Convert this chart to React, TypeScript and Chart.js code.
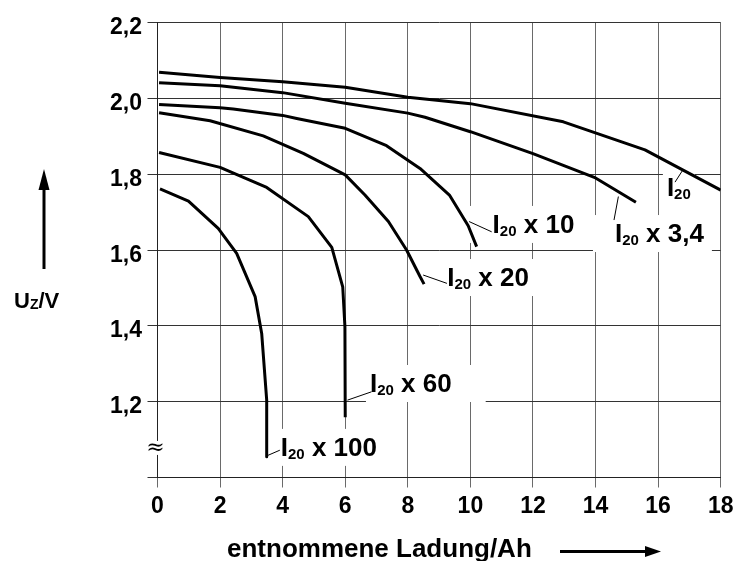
import React, { useEffect, useRef } from 'react';
import { Chart, registerables } from 'chart.js';

Chart.register(...registerables);

// ---------- data ----------
const xTickValues = [0, 2, 4, 6, 8, 10, 12, 14, 16, 18];
const xTickLabels = ['0', '2', '4', '6', '8', '10', '12', '14', '16', '18'];
const yTickValues = [1.2, 1.4, 1.6, 1.8, 2.0, 2.2];
const yTickLabels = ['1,2', '1,4', '1,6', '1,8', '2,0', '2,2'];

const xTitle = 'entnommene Ladung/Ah';
const yTitleMain = 'U';
const yTitleSub = 'Z';
const yTitleRest = '/V';

// I20
const i20Charge = [0.05, 2, 4, 6, 8, 10, 12.97, 15.58, 18];
const i20Voltage = [2.069, 2.055, 2.044, 2.029, 2.003, 1.986, 1.938, 1.864, 1.758];
// I20 x 3,4
const i20x34Charge = [0.05, 2, 4, 6, 8, 8.55, 10, 12, 14, 15.29];
const i20x34Voltage = [2.041, 2.033, 2.015, 1.987, 1.961, 1.95, 1.912, 1.854, 1.79, 1.726];
// I20 x 10
const i20x10Charge = [0.05, 2, 2.42, 4, 4.45, 6, 7.32, 8.39, 9.33, 9.93, 10.2];
const i20x10Voltage = [1.984, 1.975, 1.972, 1.955, 1.947, 1.921, 1.875, 1.815, 1.745, 1.664, 1.609];
// I20 x 20
const i20x20Charge = [0.05, 1.68, 3.38, 4.66, 6.0, 6.63, 7.38, 7.96, 8.39, 8.52];
const i20x20Voltage = [1.962, 1.941, 1.901, 1.855, 1.798, 1.745, 1.675, 1.6, 1.53, 1.51];
// I20 x 60
const i20x60Charge = [0.05, 2.0, 3.49, 4.82, 5.57, 5.92, 5.99, 6.0];
const i20x60Voltage = [1.857, 1.818, 1.765, 1.688, 1.607, 1.503, 1.398, 1.159];
// I20 x 100
const i20x100Charge = [0.08, 0.99, 1.94, 2.53, 3.12, 3.33, 3.49, 3.49];
const i20x100Voltage = [1.761, 1.729, 1.657, 1.591, 1.477, 1.38, 1.204, 1.055];

const seriesNames = ['I20', 'I20 x 3,4', 'I20 x 10', 'I20 x 20', 'I20 x 60', 'I20 x 100'];
const seriesCharge = [i20Charge, i20x34Charge, i20x10Charge, i20x20Charge, i20x60Charge, i20x100Charge];
const seriesVoltage = [i20Voltage, i20x34Voltage, i20x10Voltage, i20x20Voltage, i20x60Voltage, i20x100Voltage];

// curve labels: text anchor and leader line in data units
const labelSuffix = ['', ' x 3,4', ' x 10', ' x 20', ' x 60', ' x 100'];
const labelX = [16.28, 14.62, 10.71, 9.26, 6.79, 3.94];
const labelY = [1.742, 1.621, 1.645, 1.505, 1.2255, 1.057];
const leaderFromX = [16.54, 14.59, 10.68, 9.25, 6.84, 3.91];
const leaderFromY = [1.779, 1.679, 1.648, 1.512, 1.226, 1.072];
const leaderToX = [16.79, 14.73, 9.96, 8.49, 6.07, 3.49];
const leaderToY = [1.811, 1.741, 1.675, 1.534, 1.204, 1.057];
const maskPadLeft = [4, 22, 24, 4, 4, 4];
const maskPadRight = [4, 8, 6, 8, 34, 6];

const breakMarkY = 1.078;

// ---------- styles ----------
const FONT = '"Liberation Sans", Arial, Helvetica, sans-serif';
const LABEL_SIZE = 26;
const SUB_SIZE = 15;

function drawIndexLabel(ctx: CanvasRenderingContext2D, x: number, y: number, rest: string, measureOnly = false): number {
  ctx.font = `bold ${LABEL_SIZE}px ${FONT}`;
  const wI = ctx.measureText('I').width;
  ctx.font = `bold ${SUB_SIZE}px ${FONT}`;
  const wSub = ctx.measureText('20').width;
  ctx.font = `bold ${LABEL_SIZE}px ${FONT}`;
  const wRest = rest ? ctx.measureText(rest).width : 0;
  if (!measureOnly) {
    ctx.fillStyle = '#000';
    ctx.textAlign = 'left';
    ctx.textBaseline = 'alphabetic';
    ctx.font = `bold ${LABEL_SIZE}px ${FONT}`;
    ctx.fillText('I', x, y);
    ctx.font = `bold ${SUB_SIZE}px ${FONT}`;
    ctx.fillText('20', x + wI, y + 3);
    if (rest) {
      ctx.font = `bold ${LABEL_SIZE}px ${FONT}`;
      ctx.fillText(rest, x + wI + wSub, y);
    }
  }
  return wI + wSub + wRest;
}

const overlayPlugin = {
  id: 'overlay',
  beforeDatasetsDraw(chart: any) {
    const { ctx, scales } = chart;
    const xs = scales.x;
    const ys = scales.y;
    ctx.save();
    ctx.fillStyle = '#fff';
    for (let i = 0; i < seriesNames.length; i++) {
      const px = xs.getPixelForValue(labelX[i]);
      const py = ys.getPixelForValue(labelY[i]);
      const w = drawIndexLabel(ctx, px, py, labelSuffix[i], true);
      ctx.fillRect(px - maskPadLeft[i], py - 27, w + maskPadLeft[i] + maskPadRight[i], 37);
    }
    const bx = xs.getPixelForValue(0);
    const by = ys.getPixelForValue(breakMarkY);
    ctx.fillRect(bx - 8, by - 7, 16, 14);
    ctx.restore();
  },
  afterDatasetsDraw(chart: any) {
    const { ctx, scales, chartArea } = chart;
    const xs = scales.x;
    const ys = scales.y;
    ctx.save();

    // leaders
    ctx.strokeStyle = '#000';
    ctx.lineWidth = 1;
    for (let i = 0; i < seriesNames.length; i++) {
      ctx.beginPath();
      ctx.moveTo(xs.getPixelForValue(leaderFromX[i]), ys.getPixelForValue(leaderFromY[i]));
      ctx.lineTo(xs.getPixelForValue(leaderToX[i]), ys.getPixelForValue(leaderToY[i]));
      ctx.stroke();
    }
    // labels
    for (let i = 0; i < seriesNames.length; i++) {
      drawIndexLabel(ctx, xs.getPixelForValue(labelX[i]), ys.getPixelForValue(labelY[i]), labelSuffix[i]);
    }

    // break mark
    ctx.fillStyle = '#000';
    ctx.font = `22px "DejaVu Serif", "Liberation Serif", serif`;
    ctx.textAlign = 'center';
    ctx.textBaseline = 'middle';
    ctx.fillText('\u2248', xs.getPixelForValue(0) - 2, ys.getPixelForValue(breakMarkY));

    // tick labels
    ctx.font = `bold 23px ${FONT}`;
    ctx.textAlign = 'right';
    ctx.textBaseline = 'alphabetic';
    yTickValues.forEach((v, i) => {
      ctx.fillText(yTickLabels[i], chartArea.left - 15.5, ys.getPixelForValue(v) + 11.5);
    });
    ctx.textAlign = 'center';
    xTickValues.forEach((v, i) => {
      ctx.fillText(xTickLabels[i], xs.getPixelForValue(v), chartArea.bottom + 35.5);
    });

    // x title + arrow
    ctx.font = `bold 26px ${FONT}`;
    ctx.textAlign = 'left';
    ctx.fillText(xTitle, 227, 557);
    ctx.lineWidth = 3;
    ctx.beginPath();
    ctx.moveTo(560, 551.5);
    ctx.lineTo(648, 551.5);
    ctx.stroke();
    ctx.beginPath();
    ctx.moveTo(661, 551.5);
    ctx.lineTo(645, 546);
    ctx.lineTo(645, 557);
    ctx.closePath();
    ctx.fill();

    // y title + arrow
    ctx.font = `bold 22px ${FONT}`;
    const wU = ctx.measureText(yTitleMain).width;
    ctx.fillText(yTitleMain, 14, 308);
    ctx.font = `bold 14px ${FONT}`;
    const wZ = ctx.measureText(yTitleSub).width;
    ctx.fillText(yTitleSub, 14 + wU, 309);
    ctx.font = `bold 22px ${FONT}`;
    ctx.fillText(yTitleRest, 14 + wU + wZ, 308);
    ctx.beginPath();
    ctx.moveTo(44, 269);
    ctx.lineTo(44, 186);
    ctx.stroke();
    ctx.beginPath();
    ctx.moveTo(44, 169);
    ctx.lineTo(38.5, 190);
    ctx.lineTo(49.5, 190);
    ctx.closePath();
    ctx.fill();

    ctx.restore();
  },
};

export default function App() {
  const canvasRef = useRef<HTMLCanvasElement | null>(null);

  useEffect(() => {
    const canvas = canvasRef.current;
    if (!canvas) return;
    const datasets = seriesNames.map((name, i) => ({
      label: name,
      data: seriesCharge[i].map((c, j) => ({ x: c, y: seriesVoltage[i][j] })),
      borderColor: '#000',
      borderWidth: 3,
      pointRadius: 0,
      fill: false,
      tension: 0,
      borderJoinStyle: 'round' as const,
    }));
    const chart = new Chart(canvas, {
      type: 'line',
      data: { datasets },
      options: {
        responsive: false,
        animation: false,
        layout: { padding: { top: 22.5, right: 14.3, left: 0, bottom: 0 } },
        plugins: {
          legend: { display: false },
          tooltip: { enabled: false },
        },
        scales: {
          x: {
            type: 'linear',
            min: 0,
            max: 18,
            ticks: { stepSize: 2, display: false },
            grid: { color: '#6a6a6a', lineWidth: 1, tickLength: 10, drawTicks: true },
            border: { display: true, color: '#222', width: 1 },
            afterFit: (s: any) => {
              s.height = 83.5;
            },
          },
          y: {
            type: 'linear',
            min: 1.0,
            max: 2.2,
            ticks: { stepSize: 0.2, display: false },
            grid: { color: '#333', lineWidth: 1, tickLength: 10, drawTicks: true },
            border: { display: true, color: '#222', width: 1 },
            afterFit: (s: any) => {
              s.width = 157.5;
            },
          },
        },
      },
      plugins: [overlayPlugin],
    });
    return () => chart.destroy();
  }, []);

  return (
    <div style={{ position: 'fixed', left: 0, top: 0, width: 735, height: 561, background: '#fff' }}>
      <canvas ref={canvasRef} width={735} height={561} style={{ display: 'block', width: 735, height: 561 }} />
    </div>
  );
}
